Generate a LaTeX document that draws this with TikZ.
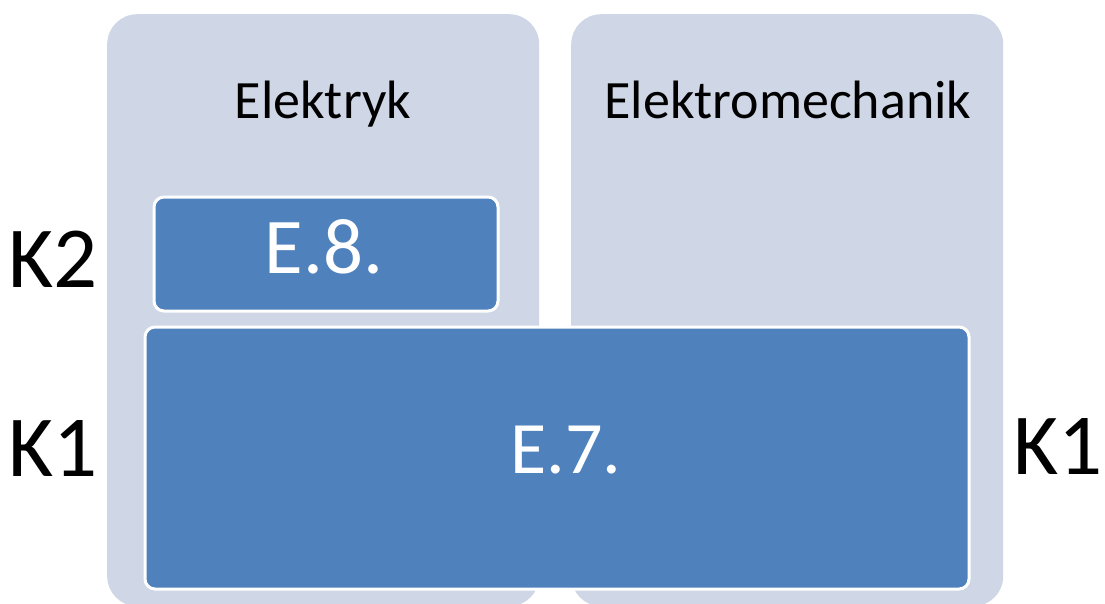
\documentclass[tikz,border=0pt]{standalone}
\usepackage{fontspec}
\setmainfont{Carlito}
\definecolor{colbg}{HTML}{CFD7E7}
\definecolor{blkblue}{HTML}{4F81BD}
\begin{document}
\begin{tikzpicture}[x=1pt,y=-1pt]
\useasboundingbox[fill=white] (0,0) rectangle (1105,603);
\tikzset{
  colbox/.style={fill=colbg, draw=none, rounded corners=30pt, inner sep=0pt, anchor=north west},
  blkbox/.style={fill=blkblue, draw=white, line width=3pt, rounded corners=10pt, inner sep=0pt, anchor=north west},
  headtxt/.style={font=\fontsize{54}{60}\selectfont, text=black, anchor=base, inner sep=0pt},
  codetxt/.style={text=white, anchor=base, inner sep=0pt},
  ktxt/.style={font=\fontsize{87}{92}\selectfont, text=black, anchor=base, inner sep=0pt}
}
\node[colbox, minimum width=432pt, minimum height=592pt] (colA) at (107,14) {};
\node[colbox, minimum width=432pt, minimum height=592pt] (colB) at (571,14) {};
\node[headtxt] (hA) at (323,118) {Elektryk};
\node[headtxt] (hB) at (788,118) {Elektromechanik};
\node[blkbox, minimum width=344pt, minimum height=114pt] (e8) at (152.5,195.5) {};
\node[blkbox, minimum width=824pt, minimum height=262pt] (e7) at (143.5,325.5) {};
\node[codetxt, font=\fontsize{79}{84}\selectfont] (t8) at (324,273) {E.8.};
\node[codetxt, font=\fontsize{74}{80}\selectfont] (t7) at (566,473) {E.7.};
\node[ktxt] (k2) at (53,287) {K2};
\node[ktxt] (k1l) at (53,476) {K1};
\node[ktxt] (k1r) at (1058,474) {K1};
\end{tikzpicture}
\end{document}
